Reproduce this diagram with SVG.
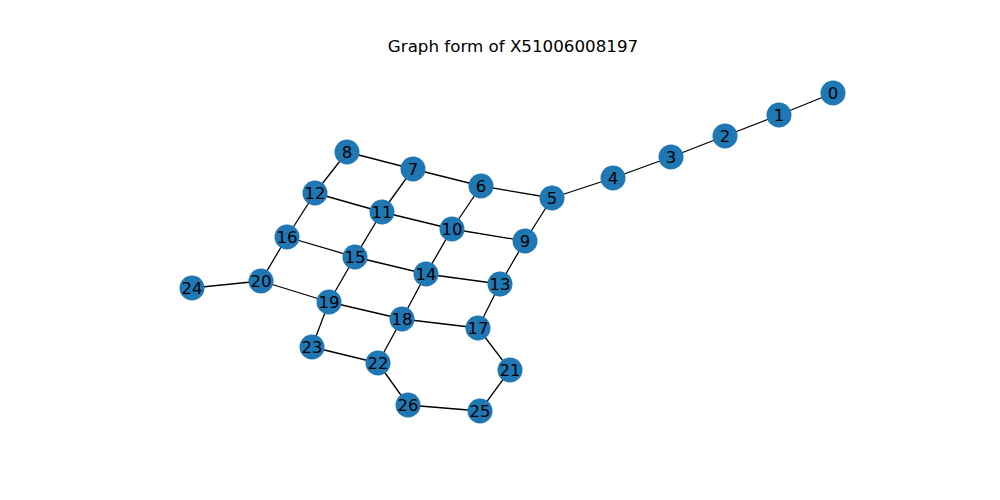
<svg xmlns="http://www.w3.org/2000/svg" width="1000" height="500" viewBox="0 0 1000 500">
<style>
.e{stroke:#000;stroke-width:1.3;fill:none}
.n circle{fill:#1f77b4}
.n text{font-family:"DejaVu Sans",sans-serif;font-size:16.5px;fill:#000;text-anchor:middle;dominant-baseline:central}
.t{font-family:"DejaVu Sans",sans-serif;font-size:16.7px;fill:#000;text-anchor:middle}
</style>
<rect width="1000" height="500" fill="#fff"/>
<text class="t" x="513" y="52">Graph form of X51006008197</text>
<g id="edges">
<line class="e" x1="833" y1="93" x2="779" y2="115"/>
<line class="e" x1="779" y1="115" x2="725" y2="136"/>
<line class="e" x1="725" y1="136" x2="671" y2="157"/>
<line class="e" x1="671" y1="157" x2="613" y2="178"/>
<line class="e" x1="613" y1="178" x2="552" y2="198"/>
<line class="e" x1="552" y1="198" x2="481" y2="186"/>
<line class="e" x1="481" y1="186" x2="413" y2="169"/>
<line class="e" x1="413" y1="169" x2="347" y2="152"/>
<line class="e" x1="552" y1="198" x2="525" y2="241"/>
<line class="e" x1="481" y1="186" x2="452" y2="229"/>
<line class="e" x1="413" y1="169" x2="382" y2="212"/>
<line class="e" x1="347" y1="152" x2="315" y2="193"/>
<line class="e" x1="525" y1="241" x2="452" y2="229"/>
<line class="e" x1="452" y1="229" x2="382" y2="212"/>
<line class="e" x1="382" y1="212" x2="315" y2="193"/>
<line class="e" x1="525" y1="241" x2="500" y2="284"/>
<line class="e" x1="452" y1="229" x2="426" y2="274"/>
<line class="e" x1="382" y1="212" x2="355" y2="257"/>
<line class="e" x1="315" y1="193" x2="287" y2="237"/>
<line class="e" x1="500" y1="284" x2="426" y2="274"/>
<line class="e" x1="426" y1="274" x2="355" y2="257"/>
<line class="e" x1="355" y1="257" x2="287" y2="237"/>
<line class="e" x1="500" y1="284" x2="478" y2="328"/>
<line class="e" x1="426" y1="274" x2="402" y2="319"/>
<line class="e" x1="355" y1="257" x2="329" y2="302"/>
<line class="e" x1="287" y1="237" x2="261" y2="281"/>
<line class="e" x1="478" y1="328" x2="402" y2="319"/>
<line class="e" x1="402" y1="319" x2="329" y2="302"/>
<line class="e" x1="329" y1="302" x2="261" y2="281"/>
<line class="e" x1="478" y1="328" x2="510" y2="370"/>
<line class="e" x1="402" y1="319" x2="378" y2="363"/>
<line class="e" x1="329" y1="302" x2="312" y2="347"/>
<line class="e" x1="261" y1="281" x2="192" y2="288"/>
<line class="e" x1="378" y1="363" x2="312" y2="347"/>
<line class="e" x1="378" y1="363" x2="408" y2="405"/>
<line class="e" x1="510" y1="370" x2="480" y2="411"/>
<line class="e" x1="480" y1="411" x2="408" y2="405"/>
</g>
<g id="node0" class="n"><circle cx="833" cy="93" r="12.5"/><text x="833" y="93">0</text></g>
<g id="node1" class="n"><circle cx="779" cy="115" r="12.5"/><text x="779" y="115">1</text></g>
<g id="node2" class="n"><circle cx="725" cy="136" r="12.5"/><text x="725" y="136">2</text></g>
<g id="node3" class="n"><circle cx="671" cy="157" r="12.5"/><text x="671" y="157">3</text></g>
<g id="node4" class="n"><circle cx="613" cy="178" r="12.5"/><text x="613" y="178">4</text></g>
<g id="node5" class="n"><circle cx="552" cy="198" r="12.5"/><text x="552" y="198">5</text></g>
<g id="node6" class="n"><circle cx="481" cy="186" r="12.5"/><text x="481" y="186">6</text></g>
<g id="node7" class="n"><circle cx="413" cy="169" r="12.5"/><text x="413" y="169">7</text></g>
<g id="node8" class="n"><circle cx="347" cy="152" r="12.5"/><text x="347" y="152">8</text></g>
<g id="node9" class="n"><circle cx="525" cy="241" r="12.5"/><text x="525" y="241">9</text></g>
<g id="node10" class="n"><circle cx="452" cy="229" r="12.5"/><text x="452" y="229">10</text></g>
<g id="node11" class="n"><circle cx="382" cy="212" r="12.5"/><text x="382" y="212">11</text></g>
<g id="node12" class="n"><circle cx="315" cy="193" r="12.5"/><text x="315" y="193">12</text></g>
<g id="node13" class="n"><circle cx="500" cy="284" r="12.5"/><text x="500" y="284">13</text></g>
<g id="node14" class="n"><circle cx="426" cy="274" r="12.5"/><text x="426" y="274">14</text></g>
<g id="node15" class="n"><circle cx="355" cy="257" r="12.5"/><text x="355" y="257">15</text></g>
<g id="node16" class="n"><circle cx="287" cy="237" r="12.5"/><text x="287" y="237">16</text></g>
<g id="node17" class="n"><circle cx="478" cy="328" r="12.5"/><text x="478" y="328">17</text></g>
<g id="node18" class="n"><circle cx="402" cy="319" r="12.5"/><text x="402" y="319">18</text></g>
<g id="node19" class="n"><circle cx="329" cy="302" r="12.5"/><text x="329" y="302">19</text></g>
<g id="node20" class="n"><circle cx="261" cy="281" r="12.5"/><text x="261" y="281">20</text></g>
<g id="node21" class="n"><circle cx="510" cy="370" r="12.5"/><text x="510" y="370">21</text></g>
<g id="node22" class="n"><circle cx="378" cy="363" r="12.5"/><text x="378" y="363">22</text></g>
<g id="node23" class="n"><circle cx="312" cy="347" r="12.5"/><text x="312" y="347">23</text></g>
<g id="node24" class="n"><circle cx="192" cy="288" r="12.5"/><text x="192" y="288">24</text></g>
<g id="node25" class="n"><circle cx="480" cy="411" r="12.5"/><text x="480" y="411">25</text></g>
<g id="node26" class="n"><circle cx="408" cy="405" r="12.5"/><text x="408" y="405">26</text></g>
</svg>
